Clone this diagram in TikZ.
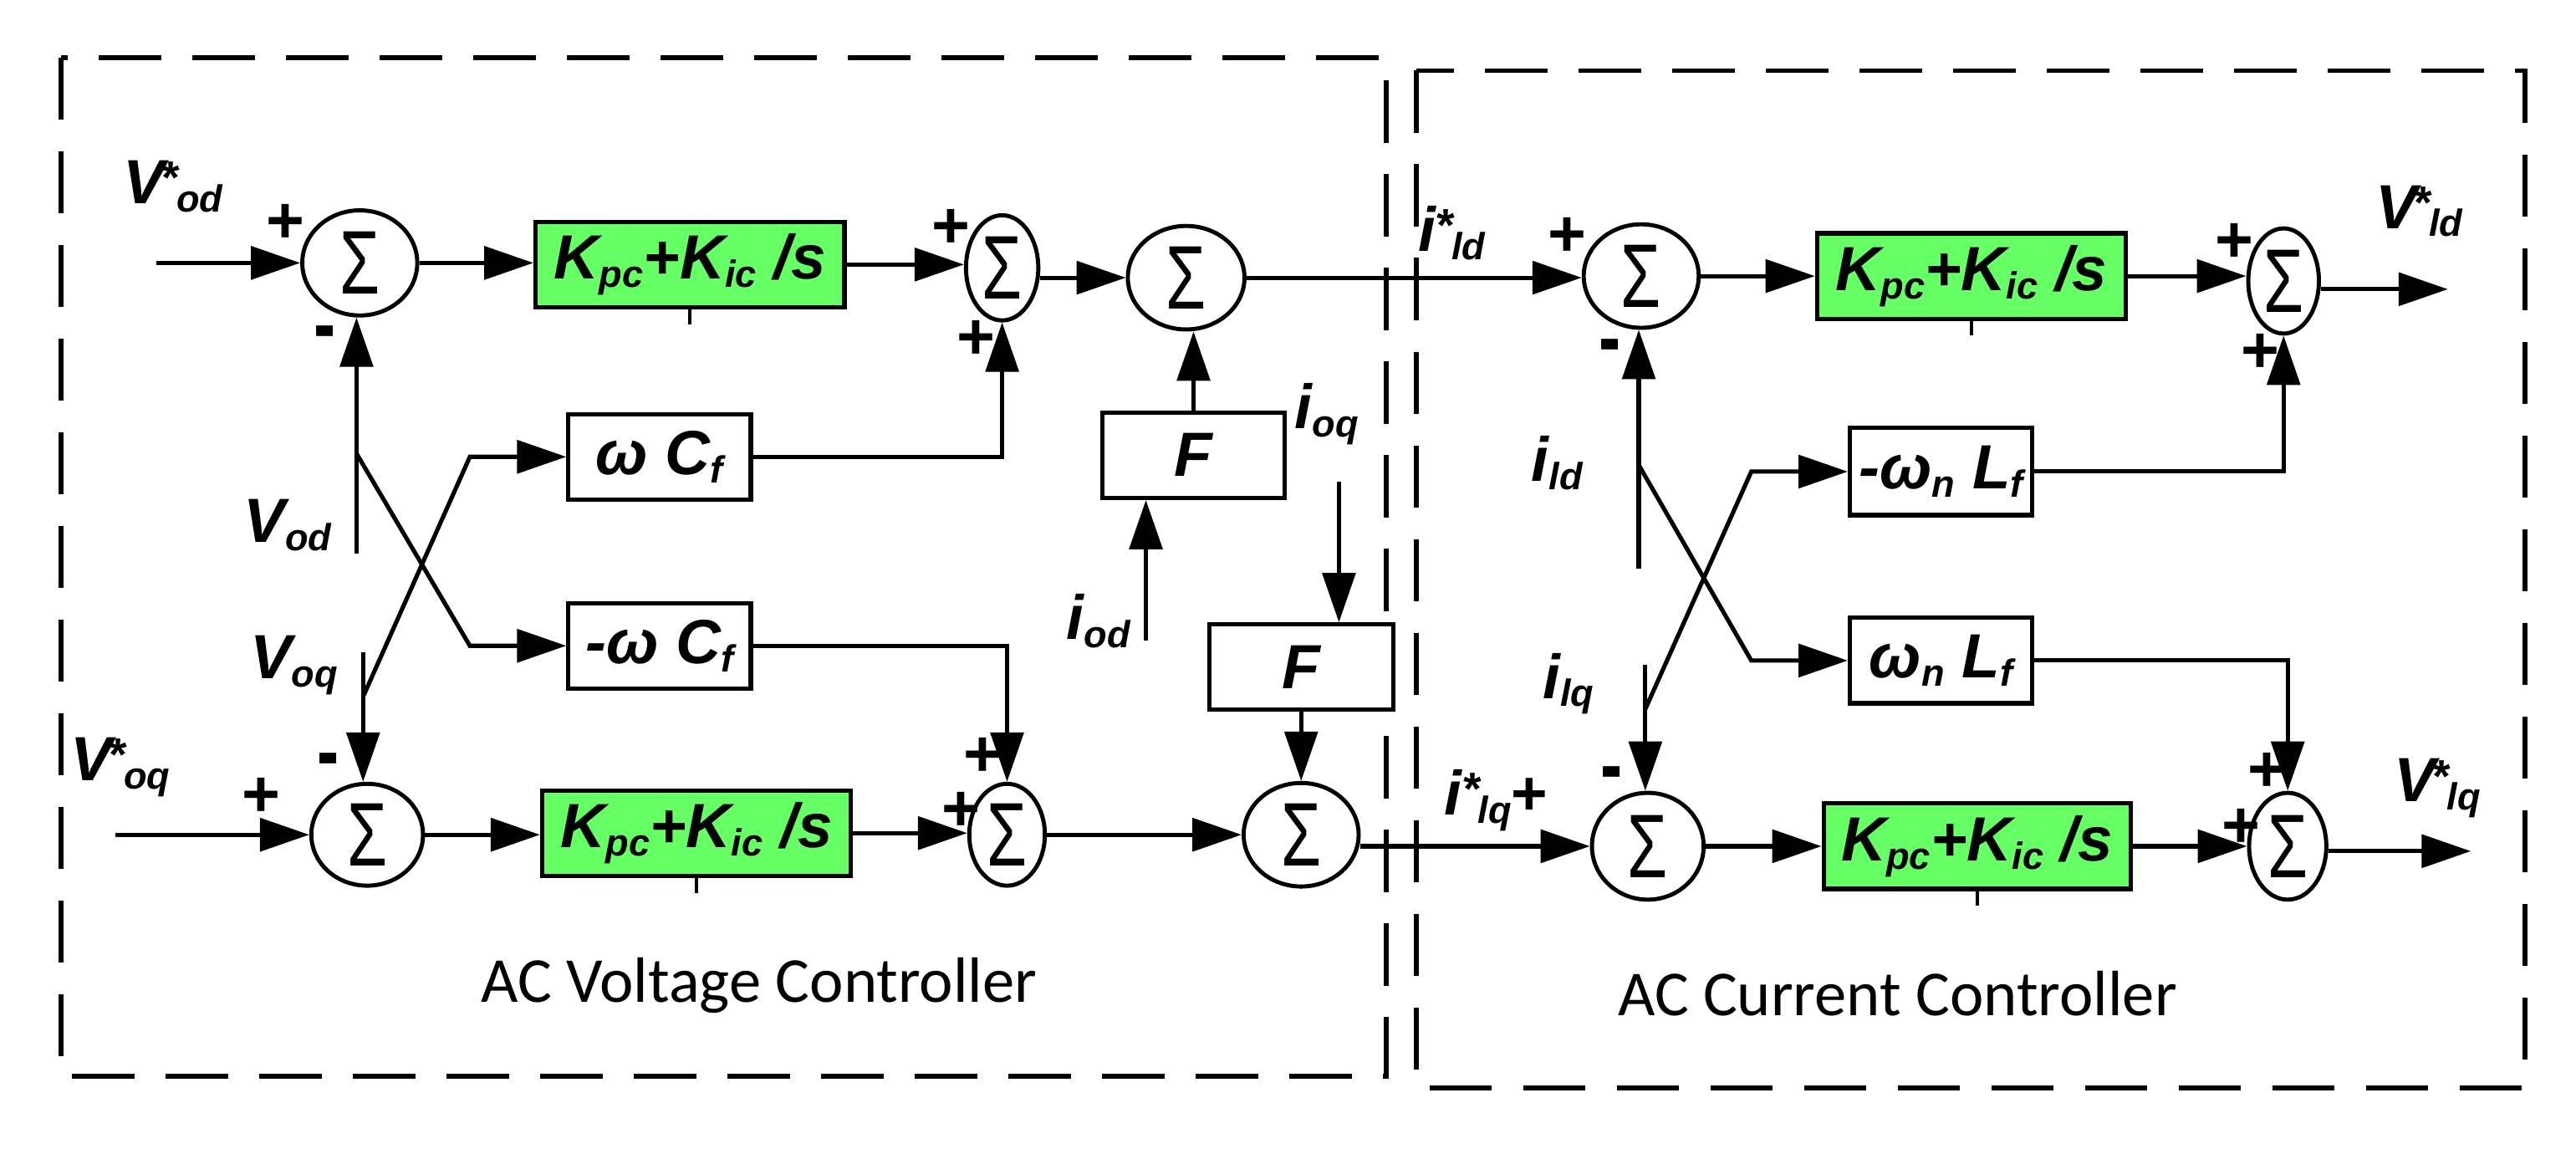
\documentclass[tikz,border=0pt]{standalone}
\usepackage{fontspec}
\setmainfont{Liberation Sans}
\newfontfamily\calibfont{Carlito}
\usetikzlibrary{arrows.meta,shapes.geometric,calc}
\definecolor{boxgreen}{RGB}{102,255,102}
\newcommand\mainf{\fontsize{38}{40}\selectfont\bfseries\itshape}
\newcommand\subtx[1]{\raisebox{-5pt}{\fontsize{23}{23}\selectfont\bfseries\itshape #1}}
\newcommand\startx{\raisebox{6pt}{\fontsize{28}{28}\selectfont\bfseries *}}
\newcommand\sigf{\fontsize{55}{55}\selectfont\mdseries\upshape}
\newcommand\kexpr{K\subtx{pc}+K\subtx{ic} /s}
\newcommand\minus{\scalebox{1}[1.35]{-}}
\tikzset{
  conn/.style={line width=2.6pt},
  arr/.style={conn,-{Triangle[length=30pt,width=20pt]}},
  sumn/.style={ellipse, draw, line width=2.5pt, inner sep=0pt, fill=white,
    label={[font=\sigf,inner sep=0pt]center:\scalebox{0.72}[1]{Σ}}},
  gbox/.style={rectangle, draw, line width=2.6pt, fill=boxgreen, minimum width=188pt,
    minimum height=52pt, inner sep=0pt, font=\mainf},
  wbox/.style={rectangle, draw, line width=2.6pt, fill=white, minimum width=111pt,
    minimum height=52pt, inner sep=0pt, font=\mainf},
  dbox/.style={draw, line width=3pt, dash pattern=on 38pt off 19pt},
  sgn/.style={font=\fontsize{40}{40}\selectfont\bfseries, inner sep=0pt},
  lab/.style={anchor=base west, inner sep=0pt, font=\mainf},
  tick/.style={line width=2pt},
  caption/.style={font=\calibfont\fontsize{39}{39}\selectfont, anchor=base, inner sep=0pt},
}
\begin{document}
\begin{tikzpicture}[x=1pt,y=-1pt]
\useasboundingbox (0,0) rectangle (1568,699);
% dashed frames
\draw[dbox] (37,35) rectangle (844,655);
\draw[dbox] (862,43) rectangle (1537,662);
% ---------- AC voltage controller ----------
\node[sumn, minimum width=70pt, minimum height=64pt] (s1) at (219,160) {};
\node[gbox] (g1) at (420,161) {\kexpr};
\node[sumn, minimum width=44pt, minimum height=64pt] (s2) at (610,163) {};
\node[sumn, minimum width=71pt, minimum height=63pt] (s3) at (722,169) {};
\node[wbox] (wc) at (401.5,278) {ω C\subtx{f}};
\node[wbox] (mwc) at (401.5,393) {-ω C\subtx{f}};
\node[wbox] (F1) at (726.5,277) {F};
\node[wbox, minimum width=112pt] (F2) at (792,406) {F};
\node[sumn, minimum width=70pt, minimum height=63pt] (s5) at (792,508) {};
\node[sumn, minimum width=68pt, minimum height=62pt] (s6) at (223.5,508) {};
\node[gbox] (g2) at (424,507) {\kexpr};
\node[sumn, minimum width=46pt, minimum height=62pt] (s7) at (613,508) {};
% ---------- AC current controller ----------
\node[sumn, minimum width=70pt, minimum height=63pt] (s4) at (999,168) {};
\node[gbox] (g3) at (1200,168) {\kexpr};
\node[sumn, minimum width=43pt, minimum height=64pt] (s9) at (1390,171) {};
\node[wbox, minimum height=53pt] (mwl) at (1181.5,287) {-ω\subtx{n} L\subtx{f}};
\node[wbox] (wl) at (1181.5,402) {ω\subtx{n} L\subtx{f}};
\node[sumn, minimum width=68pt, minimum height=65pt] (s8) at (1003,515) {};
\node[gbox, minimum width=187pt] (g4) at (1203.5,515) {\kexpr};
\node[sumn, minimum width=47pt, minimum height=65pt] (s10) at (1392.5,515) {};
% ticks under green boxes
\foreach \g in {g1,g2,g3,g4} \draw[tick] (\g.south) -- ++(0,9);
% coordinates
\coordinate (in1) at (95,160);
\coordinate (in2) at (70,508);
\coordinate (vod) at (217,337);
\coordinate (j1) at (217,276);
\coordinate (k1) at (286,393);
\coordinate (voq) at (221,397);
\coordinate (j2) at (221,424);
\coordinate (k2) at (286,278);
\coordinate (iod) at (697.5,390);
\coordinate (ioq) at (815,293);
\coordinate (ild) at (997.5,346);
\coordinate (j3) at (997.5,283);
\coordinate (k3) at (1066,402);
\coordinate (ilq) at (1001.5,404.5);
\coordinate (j4) at (1001.5,431.5);
\coordinate (k4) at (1066,287);
\coordinate (out1) at (1490,176);
\coordinate (out2) at (1504,518);
% connectors: voltage controller
\draw[arr] (in1) -- (s1.west);
\draw[arr] (s1.east) -- (s1.east -| g1.west);
\draw[arr] (g1.east) -- (g1.east -| s2.west);
\draw[arr] (s3.west -| s2.east) -- (s3.west);
\draw[arr] (s3.east) -- (s3.east -| s4.west);
\draw[arr] (wc.east) -| (s2.south);
\draw[arr] (F1.north) -- (F1.north |- s3.south);
\draw[arr] (iod) -- (iod |- F1.south);
\draw[arr] (ioq) -- (ioq |- F2.north);
\draw[arr] (F2.south) -- (s5.north);
\draw[arr] (vod) -- (vod |- s1.south);
\draw[arr] (j1) -- (k1) -- (mwc.west);
\draw[arr] (voq) -- (voq |- s6.north);
\draw[arr] (j2) -- (k2) -- (wc.west);
\draw[arr] (mwc.east) -| (s7.north);
\draw[arr] (in2) -- (s6.west);
\draw[arr] (s6.east) -- (s6.east -| g2.west);
\draw[arr] (g2.east) -- (g2.east -| s7.west);
\draw[arr] (s7.east) -- (s7.east -| s5.west);
\draw[arr] (s8.west -| s5.east) -- (s8.west);
% connectors: current controller
\draw[arr] (ild) -- (ild |- s4.south);
\draw[arr] (j3) -- (k3) -- (wl.west);
\draw[arr] (ilq) -- (ilq |- s8.north);
\draw[arr] (j4) -- (k4) -- (mwl.west);
\draw[arr] (mwl.east) -| (s9.south);
\draw[arr] (wl.east) -| (s10.north);
\draw[arr] (s4.east) -- (s4.east -| g3.west);
\draw[arr] (g3.east) -- (g3.east -| s9.west);
\draw[arr] (s9.east |- out1) -- (out1);
\draw[arr] (s8.east) -- (s8.east -| g4.west);
\draw[arr] (g4.east) -- (g4.east -| s10.west);
\draw[arr] (s10.east |- out2) -- (out2);
% signs
\node[sgn] (p1) at (174,136) {+};
\node[sgn] (m1) at (198,207) {\minus};
\node[sgn] (p2) at (579,139) {+};
\node[sgn] (p3) at (594,207) {+};
\node[sgn] (p4) at (159,485) {+};
\node[sgn] (m2) at (200,467) {\minus};
\node[sgn] (p5) at (598,461) {+};
\node[sgn] (p6) at (585,494) {+};
\node[sgn] (p7) at (954,144) {+};
\node[sgn] (m3) at (980,215) {\minus};
\node[sgn] (p8) at (1360,148) {+};
\node[sgn] (p9) at (1376,215) {+};
\node[sgn] (m4) at (981,475) {\minus};
\node[sgn] (p10) at (1380,470) {+};
\node[sgn] (p11) at (1364,504) {+};
% signal labels
\node[lab] (lVods) at (75,124) {V\kern-3pt\startx\kern-1pt\subtx{od}};
\node[lab] (lVod) at (148,330) {V\subtx{od}};
\node[lab] (lVoq) at (152,413) {V\subtx{oq}};
\node[lab] (lVoqs) at (43,475) {V\kern-3pt\startx\kern-1pt\subtx{oq}};
\node[lab] (liod) at (649,389) {i\subtx{od}};
\node[lab] (lioq) at (788,261) {i\subtx{oq}};
\node[lab] (lilds) at (863,153) {i\startx\kern-1pt\subtx{ld}};
\node[lab] (lVlds) at (1446,139) {V\kern-3pt\startx\kern-1pt\subtx{ld}};
\node[lab] (lild) at (932,293) {i\subtx{ld}};
\node[lab] (lilq) at (939,425) {i\subtx{lq}};
\node[lab] (lilqs) at (879,496) {i\startx\kern-1pt\subtx{lq}{\upshape+}};
\node[lab] (lVlqs) at (1457,488) {V\kern-3pt\startx\kern-1pt\subtx{lq}};
% captions
\node[caption] (cap1) at (462,610) {AC Voltage Controller};
\node[caption] (cap2) at (1155,618) {AC Current Controller};
\end{tikzpicture}
\end{document}
